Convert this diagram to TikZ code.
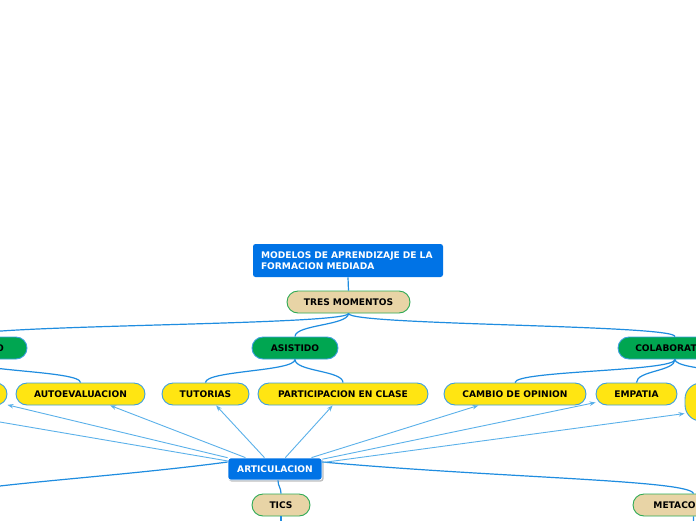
\documentclass[tikz,border=0pt]{standalone}
\usepackage{fontspec}
\setmainfont{DejaVu Sans}
\usetikzlibrary{arrows.meta}
\definecolor{bluebox}{HTML}{0073E6}
\definecolor{greenbox}{HTML}{00A651}
\definecolor{yellowbox}{HTML}{FFE512}
\definecolor{tanbox}{HTML}{E8D4A6}
\definecolor{tanborder}{HTML}{2DAA55}
\definecolor{nodeborder}{HTML}{3D9FE0}
\definecolor{conncol}{HTML}{1F8DE0}
\definecolor{arrcol}{HTML}{5BB1EA}
\tikzset{
  basebox/.style={font=\fontsize{9.1}{11}\selectfont\bfseries, minimum height=22pt, inner sep=0pt, line width=0.9pt},
  pillg/.style={basebox, fill=greenbox, draw=nodeborder, rounded corners=11pt},
  pilly/.style={basebox, fill=yellowbox, draw=nodeborder, rounded corners=11pt},
  pillt/.style={basebox, fill=tanbox, draw=tanborder, rounded corners=11pt},
  bluebx/.style={basebox, fill=bluebox, text=white, rounded corners=2.5pt},
  cline/.style={draw=conncol, line width=1.2pt},
  arrline/.style={draw=arrcol, line width=0.9pt, -{Stealth[length=6pt,width=4.5pt]}},
}
\begin{document}
\begin{tikzpicture}[x=1pt,y=-1pt]
\useasboundingbox (0,0) rectangle (696,520);
\clip (0,0) rectangle (696,520);
\fill[white] (0,0) rectangle (696,520);

% nodes
\node[bluebx, align=left, text width=174pt, inner xsep=8pt, minimum height=33pt] (title) at (348,260.5) {MODELOS DE APRENDIZAJE DE LA\\FORMACION MEDIADA};
\node[pillt, minimum width=123pt] (tres) at (348.5,302) {TRES MOMENTOS};

\node[pillg, minimum width=122pt] (lgreen) at (-34,348) {AUTODIRIGIDO};
\node[pillg, minimum width=86pt] (asis) at (295,348) {ASISTIDO};
\node[pillg, minimum width=114pt] (colab) at (675,348) {COLABORATIVO};

\node[pilly, minimum width=90pt] (yl0) at (-38,394) {};
\node[pilly, minimum width=129pt] (autoe) at (80.5,394) {AUTOEVALUACION};
\node[pilly, minimum width=87pt] (tut) at (205.5,394) {TUTORIAS};
\node[pilly, minimum width=170pt] (part) at (343,394) {PARTICIPACION EN CLASE};
\node[pilly, minimum width=142pt] (camb) at (515,394) {CAMBIO DE OPINION};
\node[pilly, minimum width=81pt] (emp) at (636.5,394) {EMPATIA};
\node[pilly, minimum width=170pt, minimum height=38pt, rounded corners=16pt] (yr) at (770,402) {};

\fill[black!25, rounded corners=2.5pt] (229,459.5) rectangle (323.5,481.5);
\node[bluebx, minimum width=94pt, draw=white, line width=0.8pt] (art) at (275,469) {ARTICULACION};
\node[pillt, minimum width=58pt] (tics) at (281,505) {TICS};
\node[pillt, minimum width=127pt] (meta) at (696.5,505) {METACOGNICION};

\coordinate (offl) at (-120,401.5);
\coordinate (offb) at (-70,500);
\coordinate (ticsdown) at (281,540);
\coordinate (metadown) at (693,540);

% connectors
\draw[cline] (title.south) -- (tres.north);
\draw[cline] (tres.south) .. controls +(0,12) and +(0,-12) .. (lgreen.north);
\draw[cline] (tres.south) .. controls +(0,12) and +(0,-12) .. (asis.north);
\draw[cline] (tres.south) .. controls +(0,12) and +(0,-12) .. (colab.north);

\draw[cline] (lgreen.south) .. controls +(0,12) and +(0,-12) .. (yl0.north);
\draw[cline] (lgreen.south) .. controls +(0,12) and +(0,-12) .. (autoe.north);
\draw[cline] (asis.south) .. controls +(0,12) and +(0,-12) .. (tut.north);
\draw[cline] (asis.south) .. controls +(0,12) and +(0,-12) .. (part.north);
\draw[cline] (colab.south) .. controls +(0,12) and +(0,-12) .. (camb.north);
\draw[cline] (colab.south) .. controls +(0,12) and +(0,-12) .. (emp.north);
\draw[cline] (colab.south) .. controls +(0,12) and +(0,-12) .. (yr.north);

\draw[cline] ([xshift=3pt]art.south) .. controls +(0,6) and +(0,-6) .. (tics.north);
\draw[cline] ([yshift=7pt]art.east) .. controls (500,478) and (690,480) .. ([xshift=-3pt]meta.north);
\draw[cline] ([yshift=7pt]art.west) .. controls (100,479) and (-55,486) .. (offb);
\draw[cline] (tics.south) -- (ticsdown);
\draw[cline] ([xshift=-3pt]meta.south) -- (metadown);

% articulation arrows
\draw[arrline] (art) -- (yl0);
\draw[arrline] (art) -- (offl);
\draw[arrline] (art) -- (autoe);
\draw[arrline] (art) -- (tut);
\draw[arrline] (art) -- (part);
\draw[arrline] (art) -- (camb);
\draw[arrline] (art) -- (emp);
\draw[arrline] (art) -- (yr);
\end{tikzpicture}
\end{document}
